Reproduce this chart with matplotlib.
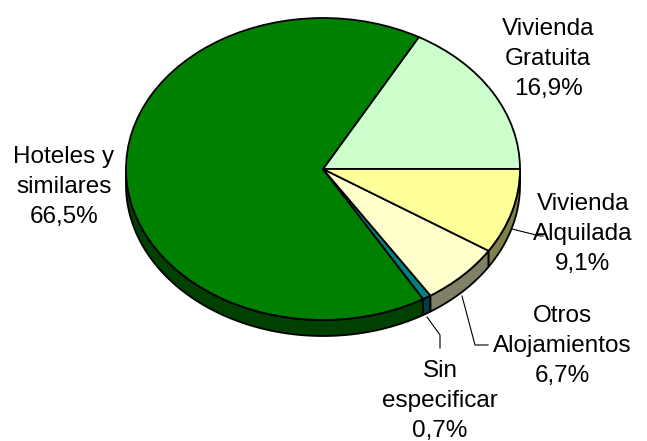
import numpy as np
import matplotlib
matplotlib.use("Agg")
import matplotlib.pyplot as plt
from matplotlib.patches import Wedge, Polygon

plt.rcParams['font.family'] = ['Liberation Sans', 'DejaVu Sans']

# Data (counter-clockwise order starting at 3 o'clock)
categories = ["Vivienda\nGratuita", "Hoteles y\nsimilares", "Sin\nespecificar",
              "Otros\nAlojamientos", "Vivienda\nAlquilada"]
values = [16.9, 66.5, 0.7, 6.7, 9.1]
pct_labels = ["16,9%", "66,5%", "0,7%", "6,7%", "9,1%"]
top_colors = ["#CCFFCC", "#008000", "#008080", "#FFFFCC", "#FFFF99"]
side_colors = ["#668066", "#004000", "#004040", "#808066", "#80804C"]

W, H = 647, 441
fig = plt.figure(figsize=(W / 100, H / 100), dpi=100)

cx, cy, rx, ry = 323, 169, 197, 151
depth = 16 / ry
ax = fig.add_axes([(cx - rx) / W, (H - cy - ry) / H, 2 * rx / W, 2 * ry / H])
ax.set_xlim(-1, 1)
ax.set_ylim(-1, 1)
ax.set_aspect('auto')
ax.axis('off')

total = sum(values)
bounds = np.concatenate([[0], np.cumsum(values) / total * 360])

# side walls (front half only)
for i in range(len(values)):
    a, b = bounds[i], bounds[i + 1]
    lo, hi = max(a, 180), min(b, 360)
    if hi <= lo:
        continue
    t = np.radians(np.linspace(lo, hi, 100))
    top = np.column_stack([np.cos(t), np.sin(t)])
    bot = np.column_stack([np.cos(t), np.sin(t) - depth])[::-1]
    ax.add_patch(Polygon(np.vstack([top, bot]), closed=True, facecolor=side_colors[i],
                         edgecolor='black', linewidth=1.3, clip_on=False, zorder=1))

# top faces
for i in range(len(values)):
    ax.add_patch(Wedge((0, 0), 1, bounds[i], bounds[i + 1], facecolor=top_colors[i],
                       edgecolor='black', linewidth=1.3, clip_on=False, zorder=2))

# overlay in pixel coords for labels
ov = fig.add_axes([0, 0, 1, 1], facecolor='none')
ov.set_xlim(0, W)
ov.set_ylim(H, 0)
ov.axis('off')

label_pos = [(548, 59), (64, 187), (440, 401), (562, 346), (583, 234)]
for cat, pct, (x, y) in zip(categories, pct_labels, label_pos):
    ov.text(x, y, cat + "\n" + pct, ha='center', va='center', fontsize=17.5,
            linespacing=1.48, color='black')

leaders = [
    [(427, 317), (440, 335), (440, 348)],
    [(462, 296), (475, 345), (488, 345)],
    [(512, 229), (540, 236), (543, 236)],
]
for pts in leaders:
    xs, ys = zip(*pts)
    ov.plot(xs, ys, color='black', linewidth=0.8)

fig.savefig("out.png", dpi=100)
